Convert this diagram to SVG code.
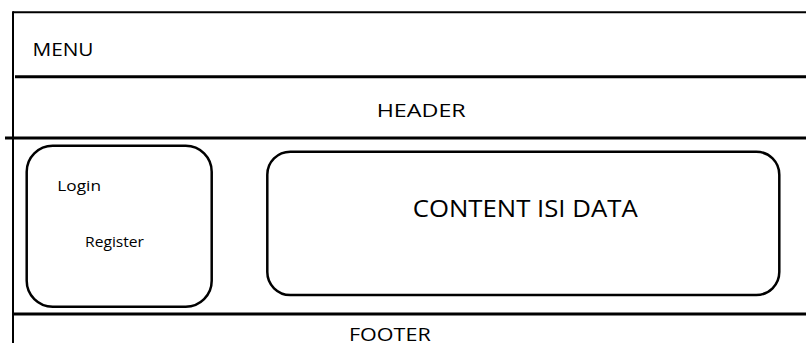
<svg xmlns="http://www.w3.org/2000/svg" width="806" height="343" viewBox="0 0 806 343">
  <style>
    .rule { stroke: #000; fill: none; }
    .box { stroke: #000; stroke-width: 2.5; fill: #fff; }
    .lbl { font-family: "Open Sans", "Noto Sans", sans-serif; fill: #000; }
  </style>
  <rect width="806" height="343" fill="#fff"/>

  <!-- page frame and section dividers -->
  <g id="frame">
    <line class="rule" x1="13" y1="12.3" x2="806" y2="12.3" stroke-width="2"/>
    <line class="rule" x1="13" y1="11.3" x2="13" y2="343" stroke-width="2"/>
    <line class="rule" x1="15" y1="76.7" x2="806" y2="76.7" stroke-width="3"/>
    <line class="rule" x1="5" y1="138" x2="806" y2="138" stroke-width="3"/>
    <line class="rule" x1="13" y1="314" x2="806" y2="314" stroke-width="3"/>
  </g>

  <g id="menu">
    <text class="lbl" x="32.5" y="56" font-size="18.6" textLength="61" lengthAdjust="spacingAndGlyphs">MENU</text>
  </g>

  <g id="header">
    <text class="lbl" x="376.7" y="116.7" font-size="18.6" textLength="89" lengthAdjust="spacingAndGlyphs">HEADER</text>
  </g>

  <g id="sidebar">
    <rect class="box" x="26.7" y="145.7" width="185" height="161" rx="26" ry="26"/>
    <text class="lbl" x="57.3" y="190.7" font-size="15" textLength="43.7" lengthAdjust="spacingAndGlyphs">Login</text>
    <text class="lbl" x="85" y="247.3" font-size="15" textLength="59" lengthAdjust="spacingAndGlyphs">Register</text>
  </g>

  <g id="content">
    <rect class="box" x="267.3" y="151.7" width="512" height="143.3" rx="23" ry="23"/>
    <text class="lbl" x="412.7" y="217.3" font-size="23.4" textLength="225" lengthAdjust="spacingAndGlyphs">CONTENT ISI DATA</text>
  </g>

  <g id="footer">
    <text class="lbl" x="349" y="341.3" font-size="17.8" textLength="81.7" lengthAdjust="spacingAndGlyphs">FOOTER</text>
  </g>

  <g id="connectors"/>
</svg>
